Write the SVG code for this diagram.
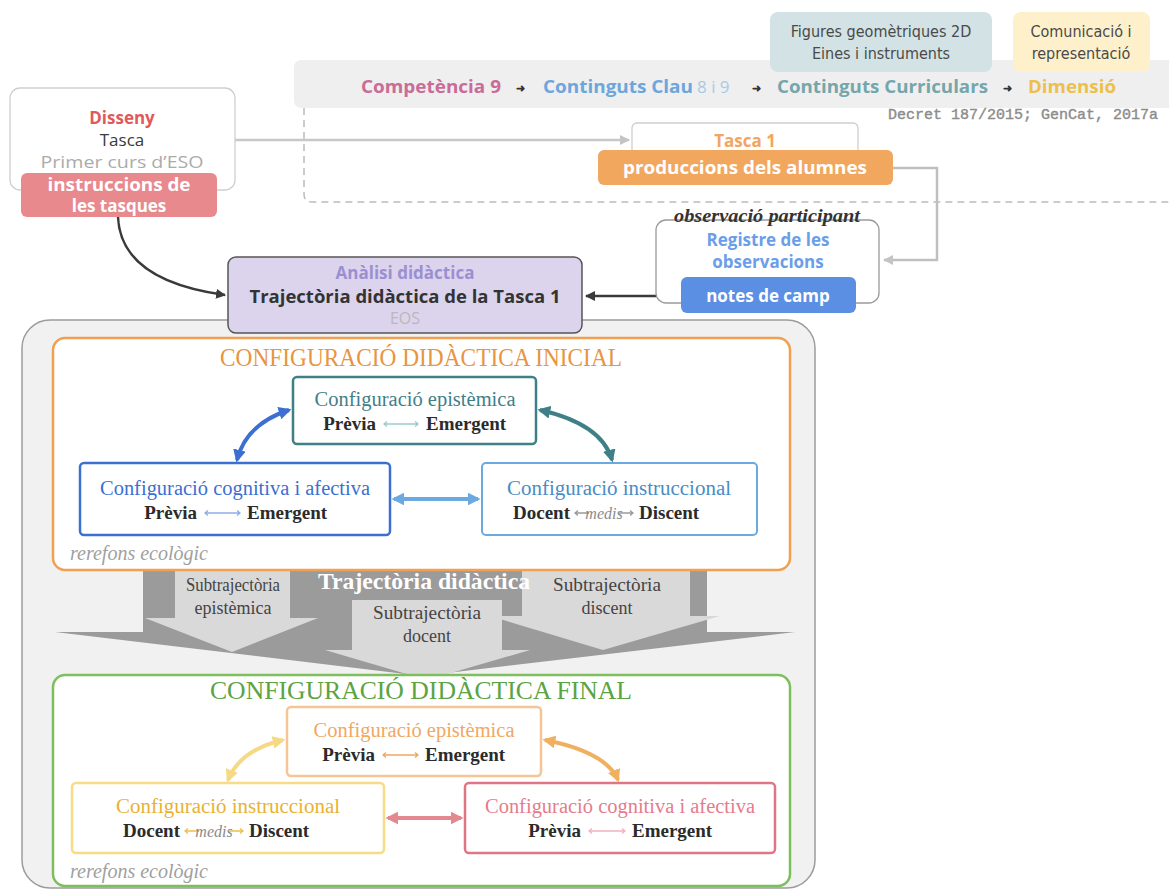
<svg xmlns="http://www.w3.org/2000/svg" width="1169" height="891" viewBox="0 0 1169 891">
  <style>
    .sans { font-family: "Open Sans", "Liberation Sans", sans-serif; }
    .b { font-weight: 700; }
    .hand { font-family: "Liberation Sans Narrow", "DejaVu Sans Condensed", sans-serif; font-size: 16px; fill: #4a4a4a; }
    .serif { font-family: "Liberation Serif", serif; }
    .cfgT { font-family: "Liberation Serif", serif; font-size: 20px; }
    .cfgB { font-family: "Liberation Serif", serif; font-size: 19px; font-weight: 700; fill: #2b2b2b; }
    .medis { font-family: "Liberation Serif", serif; font-size: 16px; font-style: italic; fill: #8a8a8a; }
    .eco { font-family: "Liberation Serif", serif; font-size: 20px; font-style: italic; fill: #a0a0a0; }
    .sub { font-family: "Liberation Serif", serif; font-size: 18px; fill: #444; text-anchor: middle; }
    .mid { text-anchor: middle; }
    .thin { fill: none; stroke-width: 1.3; }
  </style>
  <defs>
    <marker id="mGray" viewBox="0 0 10 10" refX="9" refY="5" markerWidth="4" markerHeight="4" orient="auto-start-reverse" markerUnits="strokeWidth"><path d="M0,0 L10,5 L0,10 z" fill="#c4c4c4"/></marker>
    <marker id="mDark" viewBox="0 0 10 10" refX="9" refY="5" markerWidth="4" markerHeight="4" orient="auto-start-reverse" markerUnits="strokeWidth"><path d="M0,0 L10,5 L0,10 z" fill="#3a3a3a"/></marker>
    <marker id="mBlue" viewBox="0 0 10 10" refX="8" refY="5" markerWidth="3.2" markerHeight="3.2" orient="auto-start-reverse" markerUnits="strokeWidth"><path d="M0,0 L10,5 L0,10 z" fill="#3b6fd2"/></marker>
    <marker id="mTeal" viewBox="0 0 10 10" refX="8" refY="5" markerWidth="3.2" markerHeight="3.2" orient="auto-start-reverse" markerUnits="strokeWidth"><path d="M0,0 L10,5 L0,10 z" fill="#3f8088"/></marker>
    <marker id="mLBlue" viewBox="0 0 10 10" refX="8" refY="5" markerWidth="3.2" markerHeight="3.2" orient="auto-start-reverse" markerUnits="strokeWidth"><path d="M0,0 L10,5 L0,10 z" fill="#6aaae0"/></marker>
    <marker id="mYellow" viewBox="0 0 10 10" refX="8" refY="5" markerWidth="3.2" markerHeight="3.2" orient="auto-start-reverse" markerUnits="strokeWidth"><path d="M0,0 L10,5 L0,10 z" fill="#f6d985"/></marker>
    <marker id="mOrange" viewBox="0 0 10 10" refX="8" refY="5" markerWidth="3.2" markerHeight="3.2" orient="auto-start-reverse" markerUnits="strokeWidth"><path d="M0,0 L10,5 L0,10 z" fill="#efb060"/></marker>
    <marker id="mPink" viewBox="0 0 10 10" refX="8" refY="5" markerWidth="3.2" markerHeight="3.2" orient="auto-start-reverse" markerUnits="strokeWidth"><path d="M0,0 L10,5 L0,10 z" fill="#e2888f"/></marker>
  </defs>

  <rect width="1169" height="891" fill="#ffffff"/>

  <!-- curriculum band -->
  <g id="curriculum">
    <path d="M302,60 H1169 V108 H302 Q294,108 294,100 V68 Q294,60 302,60 Z" fill="#efefef"/>
    <path d="M304,108 V194 Q304,202 312,202 H1169" fill="none" stroke="#bcbcbc" stroke-width="1.5" stroke-dasharray="7 5"/>
    <text class="sans b" x="361" y="93" font-size="17" fill="#c96c97" textLength="140" lengthAdjust="spacingAndGlyphs">Competència 9</text>
    <text class="sans b" x="516" y="92" font-size="11" fill="#333">➜</text>
    <text class="sans b" x="543" y="93" font-size="17" fill="#6ca6dc" textLength="150" lengthAdjust="spacingAndGlyphs">Continguts Clau</text>
    <text class="sans" x="697" y="93" font-size="17" fill="#a9c9ea">8 i 9</text>
    <text class="sans b" x="752" y="92" font-size="11" fill="#333">➜</text>
    <text class="sans b" x="777" y="93" font-size="17" fill="#74a6ac" textLength="211" lengthAdjust="spacingAndGlyphs">Continguts Curriculars</text>
    <text class="sans b" x="1003" y="92" font-size="11" fill="#333">➜</text>
    <text class="sans b" x="1028" y="93" font-size="17" fill="#ecc04a" textLength="88" lengthAdjust="spacingAndGlyphs">Dimensió</text>
    <text x="888" y="119" font-family="Liberation Mono, monospace" font-size="15" fill="#8c8c8c" stroke="#8c8c8c" stroke-width="0.4">Decret 187/2015; GenCat, 2017a</text>
  </g>

  <g id="continguts-curriculars">
    <rect x="770" y="12" width="222" height="60" rx="8" fill="#d3e2e4"/>
    <text class="hand mid" x="881" y="37">Figures geomètriques 2D</text>
    <text class="hand mid" x="881" y="59">Eines i instruments</text>
  </g>

  <g id="dimensio">
    <rect x="1013" y="12" width="137" height="60" rx="8" fill="#fdf0cb"/>
    <text class="hand mid" x="1081" y="37">Comunicació i</text>
    <text class="hand mid" x="1081" y="59">representació</text>
  </g>

  <!-- main panel -->
  <rect id="panel" x="22" y="320" width="793" height="568" rx="28" fill="#f1f1f1" stroke="#9c9c9c" stroke-width="1.5"/>

  <g id="connectors">
    <path d="M235,140 H629" fill="none" stroke="#c8c8c8" stroke-width="2.5" marker-end="url(#mGray)"/>
    <path d="M893,168 H937 V260 H884" fill="none" stroke="#bfbfbf" stroke-width="2.5" marker-end="url(#mGray)"/>
    <path d="M681,296 H586" fill="none" stroke="#3a3a3a" stroke-width="2.5" marker-end="url(#mDark)"/>
    <path d="M118,217 C120,262 160,286 225,295" fill="none" stroke="#3a3a3a" stroke-width="2.5" marker-end="url(#mDark)"/>
  </g>

  <g id="disseny">
    <rect x="10" y="88" width="225" height="102" rx="10" fill="#ffffff" stroke="#cfcfcf" stroke-width="1.3"/>
    <text class="sans b mid" x="122" y="124" font-size="17" fill="#e05a5c">Disseny</text>
    <text class="sans mid" x="122" y="146" font-size="17" fill="#3a3a3a">Tasca</text>
    <text class="sans mid" x="122" y="168" font-size="17" fill="#ababab" textLength="163" lengthAdjust="spacingAndGlyphs">Primer curs d’ESO</text>
    <rect x="21" y="173" width="196" height="44" rx="6" fill="#e8898d"/>
    <text class="sans b mid" x="119" y="191" font-size="17" fill="#ffffff" textLength="143" lengthAdjust="spacingAndGlyphs">instruccions de</text>
    <text class="sans b mid" x="119" y="212" font-size="17" fill="#ffffff">les tasques</text>
  </g>

  <g id="tasca1">
    <rect x="632" y="123" width="226" height="37" rx="5" fill="#ffffff" stroke="#cfcfcf" stroke-width="1.3"/>
    <text class="sans b mid" x="745" y="147" font-size="17" fill="#f3a560">Tasca 1</text>
    <rect x="598" y="150" width="295" height="35" rx="6" fill="#f2a75e"/>
    <text class="sans b mid" x="745" y="174" font-size="17" fill="#ffffff" textLength="244" lengthAdjust="spacingAndGlyphs">produccions dels alumnes</text>
  </g>

  <g id="observacio">
    <rect x="656" y="220" width="223" height="83" rx="10" fill="#ffffff" stroke="#9a9a9a" stroke-width="1.3"/>
    <text class="serif b mid" x="767" y="222" font-size="18" font-style="italic" fill="#333" textLength="186" lengthAdjust="spacingAndGlyphs">observació participant</text>
    <text class="sans b mid" x="768" y="246" font-size="17" fill="#6a9ee9">Registre de les</text>
    <text class="sans b mid" x="768" y="268" font-size="17" fill="#6a9ee9">observacions</text>
    <rect x="681" y="277" width="175" height="36" rx="6" fill="#5b8fe3"/>
    <text class="sans b mid" x="768" y="302" font-size="17" fill="#ffffff">notes de camp</text>
  </g>

  <g id="analisi">
    <rect x="228" y="257" width="354" height="76" rx="8" fill="#dbd4ec" stroke="#555" stroke-width="1.5"/>
    <text class="sans b mid" x="405" y="279" font-size="17" fill="#9b8fd2">Anàlisi didàctica</text>
    <text class="sans b mid" x="405" y="303" font-size="17" fill="#333" textLength="311" lengthAdjust="spacingAndGlyphs">Trajectòria didàctica de la Tasca 1</text>
    <text class="sans mid" x="405" y="324" font-size="16" fill="#b9b9b9">EOS</text>
  </g>

  <!-- trajectory arrows -->
  <g id="trajectoria">
    <polygon points="143,566 707,566 707,632 795,632 422,676 55,632 143,632" fill="#9b9b9b"/>
    <polygon points="175,570 290,570 290,618 318,618 232,652 145,618 175,618" fill="#d9d9d9"/>
    <polygon points="352,600 502,600 502,650 530,650 427,680 325,650 352,650" fill="#d9d9d9"/>
    <polygon points="522,570 690,570 690,616 720,616 603,650 490,616 522,616" fill="#d9d9d9"/>
    <text class="serif b mid" x="424" y="589" font-size="24" fill="#ffffff" textLength="212" lengthAdjust="spacingAndGlyphs">Trajectòria didàctica</text>
    <text class="sub" x="233" y="591" textLength="94" lengthAdjust="spacingAndGlyphs">Subtrajectòria</text>
    <text class="sub" x="233" y="614">epistèmica</text>
    <text class="sub" x="427" y="619" textLength="108" lengthAdjust="spacingAndGlyphs">Subtrajectòria</text>
    <text class="sub" x="427" y="642">docent</text>
    <text class="sub" x="607" y="591" textLength="108" lengthAdjust="spacingAndGlyphs">Subtrajectòria</text>
    <text class="sub" x="607" y="614">discent</text>
  </g>

  <!-- initial configuration -->
  <g id="config-inicial">
    <rect x="53" y="338" width="737" height="232" rx="12" fill="#ffffff" stroke="#f0a050" stroke-width="2.5"/>
    <text class="serif mid" x="421" y="366" font-size="26" fill="#e8953f" textLength="402" lengthAdjust="spacingAndGlyphs">CONFIGURACIÓ DIDÀCTICA INICIAL</text>
    <text class="eco" x="70" y="560">rerefons ecològic</text>
  </g>

  <g id="inicial-epistemica">
    <rect x="293" y="377" width="243" height="67" rx="4" fill="#ffffff" stroke="#3f8088" stroke-width="2.5"/>
    <text class="cfgT mid" x="415" y="406" fill="#3f8088" textLength="201" lengthAdjust="spacingAndGlyphs">Configuració epistèmica</text>
    <text class="cfgB" x="376" y="430" text-anchor="end">Prèvia</text>
    <path class="thin" stroke="#9fc9cd" d="M384,424 H418 M387,421.5 L384,424 L387,426.5 M415,421.5 L418,424 L415,426.5"/>
    <text class="cfgB" x="426" y="430">Emergent</text>
  </g>

  <g id="inicial-cognitiva">
    <rect x="80" y="463" width="310" height="72" rx="4" fill="#ffffff" stroke="#3b6fd2" stroke-width="2.5"/>
    <text class="cfgT mid" x="235" y="495" fill="#3b6fd2" textLength="270" lengthAdjust="spacingAndGlyphs">Configuració cognitiva i afectiva</text>
    <text class="cfgB" x="197" y="519" text-anchor="end">Prèvia</text>
    <path class="thin" stroke="#8eaee6" d="M205,513 H240 M208,510.5 L205,513 L208,515.5 M237,510.5 L240,513 L237,515.5"/>
    <text class="cfgB" x="247" y="519">Emergent</text>
  </g>

  <g id="inicial-instruccional">
    <rect x="482" y="463" width="275" height="72" rx="4" fill="#ffffff" stroke="#6aaae0" stroke-width="2"/>
    <text class="cfgT mid" x="619" y="495" fill="#4a8cc4" textLength="224" lengthAdjust="spacingAndGlyphs">Configuració instruccional</text>
    <text class="cfgB" x="570" y="519" text-anchor="end">Docent</text>
    <path class="thin" stroke="#9a9a9a" d="M575,513 H589 M578,510.5 L575,513 L578,515.5"/>
    <text class="medis mid" x="604" y="519">medis</text>
    <path class="thin" stroke="#9a9a9a" d="M619,513 H633 M630,510.5 L633,513 L630,515.5"/>
    <text class="cfgB" x="639" y="519">Discent</text>
  </g>

  <g id="connectors-inicial">
    <path d="M237,460 Q246,424 289,410" fill="none" stroke="#3b6fd2" stroke-width="4" marker-start="url(#mBlue)" marker-end="url(#mBlue)"/>
    <path d="M540,410 Q602,424 612,460" fill="none" stroke="#3f8088" stroke-width="4" marker-start="url(#mTeal)" marker-end="url(#mTeal)"/>
    <path d="M394,499 H478" fill="none" stroke="#6aaae0" stroke-width="4" marker-start="url(#mLBlue)" marker-end="url(#mLBlue)"/>
  </g>

  <!-- final configuration -->
  <g id="config-final">
    <rect x="53" y="675" width="737" height="211" rx="12" fill="#ffffff" stroke="#7dbf5c" stroke-width="2.5"/>
    <text class="serif mid" x="421" y="699" font-size="26" fill="#5ba343" textLength="422" lengthAdjust="spacingAndGlyphs">CONFIGURACIÓ DIDÀCTICA FINAL</text>
    <text class="eco" x="70" y="878">rerefons ecològic</text>
  </g>

  <g id="final-epistemica">
    <rect x="287" y="707" width="254" height="69" rx="4" fill="#ffffff" stroke="#f6c595" stroke-width="2.5"/>
    <text class="cfgT mid" x="414" y="737" fill="#f0a862" textLength="201" lengthAdjust="spacingAndGlyphs">Configuració epistèmica</text>
    <text class="cfgB" x="375" y="761" text-anchor="end">Prèvia</text>
    <path class="thin" stroke="#f0a862" d="M383,755 H418 M386,752.5 L383,755 L386,757.5 M415,752.5 L418,755 L415,757.5"/>
    <text class="cfgB" x="425" y="761">Emergent</text>
  </g>

  <g id="final-instruccional">
    <rect x="72" y="783" width="312" height="70" rx="4" fill="#ffffff" stroke="#f8dc85" stroke-width="2.5"/>
    <text class="cfgT mid" x="228" y="813" fill="#e8b232" textLength="224" lengthAdjust="spacingAndGlyphs">Configuració instruccional</text>
    <text class="cfgB" x="180" y="837" text-anchor="end">Docent</text>
    <path class="thin" stroke="#eec04a" d="M185,831 H199 M188,828.5 L185,831 L188,833.5"/>
    <text class="medis mid" x="214" y="837">medis</text>
    <path class="thin" stroke="#eec04a" d="M229,831 H243 M240,828.5 L243,831 L240,833.5"/>
    <text class="cfgB" x="249" y="837">Discent</text>
  </g>

  <g id="final-cognitiva">
    <rect x="465" y="783" width="310" height="70" rx="4" fill="#ffffff" stroke="#e07585" stroke-width="2.5"/>
    <text class="cfgT mid" x="620" y="813" fill="#e57c8c" textLength="270" lengthAdjust="spacingAndGlyphs">Configuració cognitiva i afectiva</text>
    <text class="cfgB" x="581" y="837" text-anchor="end">Prèvia</text>
    <path class="thin" stroke="#f2b2c0" d="M589,831 H625 M592,828.5 L589,831 L592,833.5 M622,828.5 L625,831 L622,833.5"/>
    <text class="cfgB" x="632" y="837">Emergent</text>
  </g>

  <g id="connectors-final">
    <path d="M228,780 Q240,750 283,740" fill="none" stroke="#f6d985" stroke-width="4" marker-start="url(#mYellow)" marker-end="url(#mYellow)"/>
    <path d="M545,740 Q606,752 618,780" fill="none" stroke="#efb060" stroke-width="4" marker-start="url(#mOrange)" marker-end="url(#mOrange)"/>
    <path d="M388,818 H461" fill="none" stroke="#e2888f" stroke-width="4" marker-start="url(#mPink)" marker-end="url(#mPink)"/>
  </g>
</svg>
